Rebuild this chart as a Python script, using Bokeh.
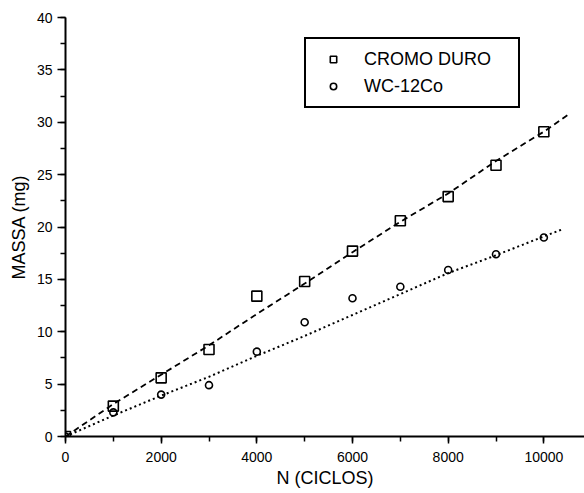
from bokeh.plotting import figure
from bokeh.models import SingleIntervalTicker, Range1d, Legend, LegendItem
from bokeh.embed import file_html
from bokeh.resources import INLINE

# ---- data ----
ciclos = [0, 1000, 2000, 3000, 4000, 5000, 6000, 7000, 8000, 9000, 10000]
cromo_duro = [0.0, 2.9, 5.6, 8.3, 13.4, 14.8, 17.7, 20.6, 22.9, 25.9, 29.1]
wc_12co = [0.0, 2.3, 4.0, 4.9, 8.1, 10.9, 13.2, 14.3, 15.9, 17.4, 19.0]

# trend lines
fit_cromo_x = [0, 1000, 2000, 3000, 4000, 5000, 6000, 7000, 8000, 9000, 10000, 10500]
fit_cromo_y = [0.0, 3.1, 5.9, 8.7, 11.7, 14.6, 17.6, 20.5, 23.2, 26.3, 29.1, 30.7]
fit_wc_x = [0, 1000, 2000, 3000, 4000, 5000, 6000, 7000, 8000, 9000, 10000, 10400]
fit_wc_y = [0.0, 2.0, 3.9, 5.7, 7.7, 9.6, 11.6, 13.6, 15.6, 17.3, 19.1, 19.8]

FONT = "Liberation Sans"

p = figure(width=584, height=493, output_backend="svg", toolbar_location=None,
           x_range=Range1d(0, 10850), y_range=Range1d(0, 40),
           min_border_left=65, min_border_top=17, min_border_bottom=57, min_border_right=0)
p.outline_line_color = None
p.grid.visible = False
p.background_fill_color = "white"
p.border_fill_color = "white"

l1 = p.line(fit_cromo_x, fit_cromo_y, line_color="black", line_width=1.8, line_dash="6 4")
l2 = p.line(fit_wc_x, fit_wc_y, line_color="black", line_width=2, line_dash="2 3")

s1 = p.scatter(ciclos, cromo_duro, marker="square", size=10, fill_color=None,
               line_color="black", line_width=1.6)
s2 = p.scatter(ciclos, wc_12co, marker="circle", size=7, fill_color=None,
               line_color="black", line_width=1.6)

legend = Legend(items=[LegendItem(label="CROMO DURO", renderers=[s1]),
                       LegendItem(label="WC-12Co", renderers=[s2])],
                location=(239, 328),
                label_text_font=FONT, label_text_font_size="18px",
                label_text_color="black",
                label_height=22, glyph_height=16, glyph_width=36,
                label_standoff=13, label_width=145, spacing=5, padding=9, margin=0,
                border_line_color="black", border_line_width=2, border_line_alpha=1.0,
                background_fill_color="white", background_fill_alpha=1.0)
p.add_layout(legend)

xa = p.xaxis[0]
xa.ticker = SingleIntervalTicker(interval=2000, num_minor_ticks=2)
xa.axis_label = "N (CICLOS)"
ya = p.yaxis[0]
ya.ticker = SingleIntervalTicker(interval=5, num_minor_ticks=2)
ya.axis_label = "MASSA (mg)"

for ax in (xa, ya):
    ax.axis_line_width = 2
    ax.axis_line_color = "black"
    ax.major_tick_line_width = 1.5
    ax.minor_tick_line_width = 1.5
    ax.major_tick_in = 0
    ax.minor_tick_in = 0
    ax.minor_tick_out = 5
    ax.major_label_text_font = FONT
    ax.major_label_text_font_size = "14px"
    ax.major_label_text_color = "black"
    ax.axis_label_text_font = FONT
    ax.axis_label_text_font_size = "18px"
    ax.axis_label_text_font_style = "normal"
    ax.axis_label_text_color = "black"

xa.major_tick_out = 7
xa.major_label_standoff = 8
xa.axis_label_standoff = 3
ya.major_tick_out = 8
ya.major_label_standoff = 5
ya.axis_label_standoff = 5

open("out.html", "w").write(file_html(p, INLINE))
